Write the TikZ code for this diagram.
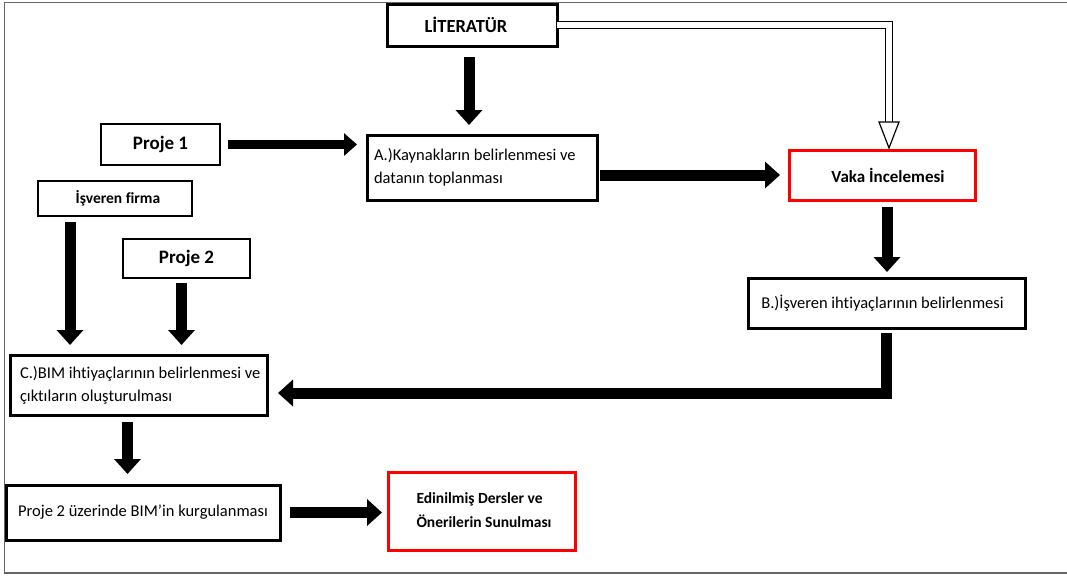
\documentclass[tikz,border=0pt]{standalone}
\usepackage{fontspec}
\setmainfont[Ligatures={NoCommon}]{Carlito}
\usetikzlibrary{arrows.meta,calc}

% left-aligned block of lines in a box of fixed width (lines are never rebroken)
\newcommand{\leftlines}[2]{\makebox[#1][l]{\begin{tabular}{@{}l@{}}#2\end{tabular}}}

\tikzset{
  box/.style={draw, line width=3pt, inner sep=0pt, outer sep=0pt, font=\fontsize{16.5}{23}\selectfont},
  thinbox/.style={draw, line width=1.2pt, inner sep=0pt, outer sep=0pt, font=\fontsize{19}{22}\selectfont\bfseries},
  redbox/.style={draw=red, line width=3pt, inner sep=0pt, outer sep=0pt, font=\fontsize{17}{22}\selectfont\bfseries},
  blk/.style={line width=11pt, -{Triangle[width=26pt,length=15pt]}, miter limit=10, line join=miter},
  blks/.style={line width=9pt, -{Triangle[width=22pt,length=13pt]}},
  hollow/.style={draw, line width=1.2pt, double=white, double distance=6pt, line join=miter},
}

\begin{document}
\begin{tikzpicture}[x=1pt, y=-1pt]
  % page frame
  \useasboundingbox (0,0) rectangle (1067,576);
  \draw[gray!80!black, line width=1.5pt] (1067,2.5) -- (4.5,2.5) -- (4.5,573) -- (1067,573);

  % boxes
  \node[box, minimum width=170pt, minimum height=42pt, font=\fontsize{18.5}{22}\selectfont\bfseries] (lit) at (472,25) {\hspace*{-12pt}LİTERATÜR};
  \node[box, minimum width=230pt, minimum height=65pt] (A) at (482,167.5)
    {\leftlines{216pt}{A.)Kaynakların belirlenmesi ve\\datanın toplanması}};
  \node[redbox, minimum width=186pt, minimum height=50pt] (vaka) at (882,175) {\hspace*{12pt}Vaka İncelemesi};
  \node[thinbox, minimum width=119pt, minimum height=41pt] (p1) at (160.5,144.5) {Proje 1};
  \node[thinbox, minimum width=154pt, minimum height=35pt, font=\fontsize{15.5}{19}\selectfont\bfseries] (isv) at (115,198.5) {\hspace*{6pt}İşveren firma};
  \node[thinbox, minimum width=127pt, minimum height=39pt] (p2) at (186.5,258.5) {Proje 2};
  \node[box, minimum width=277pt, minimum height=50pt] (B) at (886.5,303) {\hspace*{-8pt}B.)İşveren ihtiyaçlarının belirlenmesi};
  \node[box, minimum width=257pt, minimum height=60pt] (C) at (138.5,385)
    {\leftlines{237pt}{C.)BIM ihtiyaçlarının belirlenmesi ve\\çıktıların oluşturulması}};
  \node[box, minimum width=274pt, minimum height=55pt] (D) at (143,512.5) {Proje 2 üzerinde BIM’in kurgulanması};
  \node[redbox, minimum width=187pt, minimum height=78pt, font=\fontsize{15.5}{24}\selectfont\bfseries] (E) at (481.5,511)
    {\leftlines{130pt}{Edinilmiş Dersler ve\\Önerilerin Sunulması}};

  % connectors
  \draw[blk, shorten <=11pt, shorten >=10pt] ([xshift=-3pt]lit.south) -- ([xshift=-3pt]lit.south |- A.north);
  \draw[blks, shorten <=8pt, shorten >=10pt] (p1.east) -- (p1.east -| A.west);
  \draw[blk, shorten <=3pt, shorten >=9pt] (vaka.west -| A.east) -- (vaka.west);
  \draw[blk, shorten <=7pt, shorten >=6pt] ([xshift=5pt]vaka.south) -- ([xshift=5pt]vaka.south |- B.north);
  \draw[blk, shorten <=5pt, shorten >=11pt] (B.south) |- ([yshift=-8pt]C.east);
  \draw[blk, shorten <=6pt, shorten >=10pt] ([xshift=-45pt]isv.south) -- ([xshift=-45pt]isv.south |- C.north);
  \draw[blk, shorten <=5pt, shorten >=10pt] ([xshift=-5pt]p2.south) -- ([xshift=-5pt]p2.south |- C.north);
  \draw[blk, shorten <=7pt, shorten >=11pt] ([xshift=-11pt]C.south) -- ([xshift=-11pt]C.south |- D.north);
  \draw[blk, shorten <=10pt, shorten >=6pt] (D.east) -- (D.east -| E.west);

  % hollow double arrow from the literature box to the case study
  \coordinate (hv) at ([xshift=7pt,yshift=28pt]vaka.north);
  \draw[hollow] (lit.east) -| (hv);
  \draw[line width=1.2pt, fill=white, line join=miter]
    ($(hv)+(-10,0)$) -- ($(hv)+(10,0)$) -- ([xshift=7pt,yshift=2pt]vaka.north) -- cycle;
\end{tikzpicture}
\end{document}
